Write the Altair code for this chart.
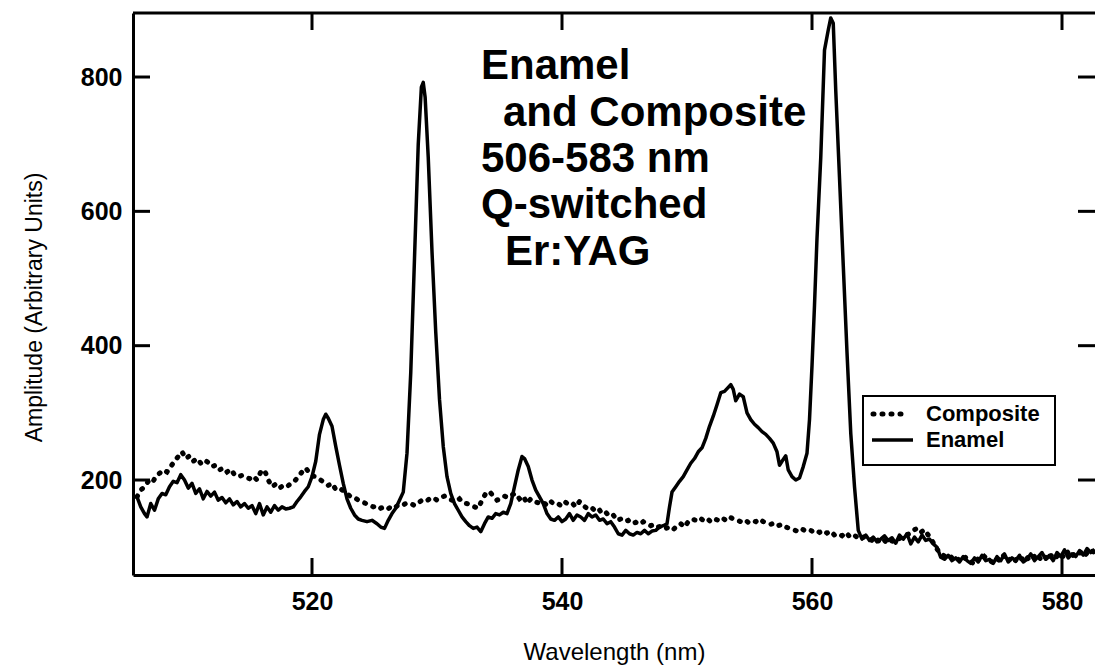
import altair as alt
import pandas as pd

# Emission spectra, 506-583 nm, Q-switched Er:YAG ablation
enamel_nm = [
    506.0, 506.3, 506.6, 506.8, 507.1, 507.4, 507.7, 508.0, 508.3, 508.6, 508.9, 509.2,
    509.5, 509.8, 510.1, 510.4, 510.7, 511.0, 511.3, 511.6, 511.9, 512.2, 512.5, 512.8,
    513.1, 513.4, 513.7, 514.0, 514.3, 514.6, 514.9, 515.2, 515.5, 515.8, 516.1, 516.4,
    516.7, 517.0, 517.3, 517.6, 517.9, 518.2, 518.5, 518.8, 519.1, 519.4, 519.7, 520.0,
    520.3, 520.6, 520.9, 521.1, 521.3, 521.6, 521.9, 522.2, 522.5, 522.8, 523.1, 523.4,
    523.7, 524.0, 524.4, 524.8, 525.2, 525.5, 525.8, 526.1, 526.4, 526.7, 527.0, 527.3,
    527.6, 527.9, 528.2, 528.5, 528.75, 528.9, 529.05, 529.3, 529.6, 529.9, 530.2, 530.5,
    530.8, 531.1, 531.4, 531.7, 532.0, 532.3, 532.6, 532.9, 533.2, 533.5, 533.8, 534.1,
    534.4, 534.7, 535.0, 535.3, 535.6, 535.9, 536.2, 536.5, 536.8, 537.0, 537.3, 537.6,
    537.9, 538.2, 538.5, 538.8, 539.1, 539.4, 539.7, 540.0, 540.3, 540.6, 540.9, 541.2,
    541.5, 541.8, 542.1, 542.4, 542.7, 543.0, 543.3, 543.6, 543.9, 544.2, 544.5, 544.8,
    545.1, 545.4, 545.7, 546.0, 546.3, 546.6, 546.9, 547.2, 547.5, 547.8, 548.1, 548.4,
    548.6, 548.8, 549.1, 549.4, 549.7, 550.0, 550.3, 550.6, 550.9, 551.2, 551.5, 551.8,
    552.1, 552.4, 552.7, 553.0, 553.3, 553.5, 553.7, 553.9, 554.2, 554.5, 554.8, 555.1,
    555.4, 555.7, 556.0, 556.3, 556.6, 556.9, 557.2, 557.4, 557.6, 557.9, 558.1, 558.4,
    558.7, 559.0, 559.3, 559.6, 559.8, 560.0, 560.2, 560.4, 560.7, 561.0, 561.3, 561.5,
    561.7, 561.9, 562.2, 562.5, 562.8, 563.1, 563.4, 563.7, 564.0, 564.3, 564.6, 564.9,
    565.2, 565.5, 565.8, 566.1, 566.4, 566.7, 567.0, 567.3, 567.6, 567.9, 568.2, 568.5,
    568.8, 569.1, 569.4, 569.7, 570.0, 570.3, 570.6, 570.9, 571.2, 571.5, 571.8, 572.1,
    572.4, 572.7, 573.0, 573.3, 573.6, 573.9, 574.2, 574.5, 574.8, 575.1, 575.4, 575.7,
    576.0, 576.3, 576.6, 576.9, 577.2, 577.5, 577.8, 578.1, 578.4, 578.7, 579.0, 579.3,
    579.6, 579.9, 580.2, 580.5, 580.8, 581.1, 581.4, 581.7, 582.0, 582.3, 582.6,
]
enamel_amp = [
    175, 160, 150, 145, 165, 155, 172, 180, 178, 190, 198, 196,
    208, 200, 188, 195, 180, 187, 172, 183, 176, 182, 170, 174,
    166, 172, 163, 168, 160, 165, 158, 162, 150, 165, 148, 160,
    152, 162, 155, 160, 157, 158, 160, 168, 175, 183, 190, 205,
    228, 268, 290, 298, 292, 280, 250, 222, 195, 172, 158, 148,
    142, 140, 138, 140, 135, 130, 128, 140, 150, 158, 170, 182,
    240, 360, 530, 700, 785, 792, 770, 680, 540, 420, 320, 250,
    205, 180, 165, 155, 145, 138, 132, 128, 130, 123, 135, 145,
    143, 150, 148, 152, 150, 165, 190, 215, 235, 232, 220, 200,
    185, 175, 165, 150, 142, 140, 145, 138, 142, 150, 140, 148,
    145, 140, 150, 145, 148, 140, 142, 135, 138, 130, 120, 118,
    125, 120, 118, 122, 120, 125, 120, 124, 125, 130, 132, 135,
    160, 182, 190, 198, 205, 215, 225, 232, 242, 248, 262, 280,
    295, 312, 330, 332, 338, 342, 335, 318, 328, 324, 300, 290,
    283, 278, 272, 268, 262, 255, 242, 222, 228, 236, 215, 205,
    200, 203, 220, 240, 290, 370, 460, 560, 680, 840, 870, 888,
    880, 780, 650, 520, 390, 270, 190, 125, 112, 118, 110, 115,
    108, 112, 117, 110, 114, 106, 118, 112, 120, 105, 115, 108,
    118, 110, 112, 105, 100, 85, 82, 88, 80, 84, 78, 86,
    80, 76, 84, 78, 88, 80, 82, 76, 86, 80, 90, 78,
    84, 80, 88, 78, 82, 90, 80, 86, 92, 82, 88, 80,
    92, 86, 96, 84, 90, 86, 95, 88, 98, 92, 97,
]

composite_nm = [
    506.0, 506.3, 506.6, 506.9, 507.2, 507.5, 507.8, 508.1, 508.4, 508.7, 509.0, 509.3,
    509.6, 509.9, 510.2, 510.5, 510.8, 511.1, 511.4, 511.7, 512.0, 512.3, 512.6, 512.9,
    513.2, 513.5, 513.8, 514.1, 514.4, 514.7, 515.0, 515.3, 515.6, 515.9, 516.2, 516.5,
    516.8, 517.1, 517.4, 517.7, 518.0, 518.3, 518.6, 518.9, 519.2, 519.5, 519.8, 520.1,
    520.4, 520.7, 521.0, 521.3, 521.6, 521.9, 522.2, 522.5, 522.8, 523.1, 523.4, 523.7,
    524.0, 524.3, 524.6, 524.9, 525.2, 525.5, 525.8, 526.1, 526.4, 526.7, 527.0, 527.3,
    527.6, 527.9, 528.2, 528.5, 528.8, 529.1, 529.4, 529.7, 530.0, 530.3, 530.6, 530.9,
    531.2, 531.5, 531.8, 532.1, 532.4, 532.7, 533.0, 533.3, 533.6, 533.9, 534.2, 534.5,
    534.8, 535.1, 535.4, 535.7, 536.0, 536.3, 536.6, 536.9, 537.2, 537.5, 537.8, 538.1,
    538.4, 538.7, 539.0, 539.3, 539.6, 539.9, 540.2, 540.5, 540.8, 541.1, 541.4, 541.7,
    542.0, 542.3, 542.6, 542.9, 543.2, 543.5, 543.8, 544.1, 544.4, 544.7, 545.0, 545.3,
    545.6, 545.9, 546.2, 546.5, 546.8, 547.1, 547.4, 547.7, 548.0, 548.3, 548.6, 548.9,
    549.2, 549.5, 549.8, 550.1, 550.4, 550.7, 551.0, 551.3, 551.6, 551.9, 552.2, 552.5,
    552.8, 553.1, 553.4, 553.7, 554.0, 554.3, 554.6, 554.9, 555.2, 555.5, 555.8, 556.1,
    556.4, 556.7, 557.0, 557.3, 557.6, 557.9, 558.2, 558.5, 558.8, 559.1, 559.4, 559.7,
    560.0, 560.3, 560.6, 560.9, 561.2, 561.5, 561.8, 562.1, 562.4, 562.7, 563.0, 563.3,
    563.6, 563.9, 564.2, 564.5, 564.8, 565.1, 565.4, 565.7, 566.0, 566.3, 566.6, 566.9,
    567.2, 567.5, 567.8, 568.1, 568.4, 568.7, 569.0, 569.3, 569.6, 569.9, 570.2, 570.5,
    570.8, 571.1, 571.4, 571.7, 572.0, 572.3, 572.6, 572.9, 573.2, 573.5, 573.8, 574.1,
    574.4, 574.7, 575.0, 575.3, 575.6, 575.9, 576.2, 576.5, 576.8, 577.1, 577.4, 577.7,
    578.0, 578.3, 578.6, 578.9, 579.2, 579.5, 579.8, 580.1, 580.4, 580.7, 581.0, 581.3,
    581.6, 581.9, 582.2, 582.5,
]
composite_amp = [
    175, 185, 190, 198, 195, 205, 210, 215, 212, 220, 228, 235,
    242, 232, 236, 228, 232, 225, 230, 226, 220, 222, 215, 218,
    212, 216, 208, 205, 207, 204, 202, 206, 200, 212, 215, 200,
    190, 194, 188, 192, 190, 195, 198, 205, 212, 218, 210, 206,
    204, 200, 196, 192, 195, 186, 188, 184, 180, 175, 174, 170,
    168, 165, 163, 160, 162, 158, 160, 157, 162, 160, 164, 163,
    166, 165, 162, 166, 170, 168, 172, 174, 170, 174, 176, 172,
    170, 168, 172, 166, 165, 162, 160, 158, 170, 180, 183, 176,
    170, 172, 176, 174, 178, 180, 172, 176, 165, 172, 168, 166,
    168, 164, 170, 165, 166, 162, 168, 164, 166, 160, 168, 162,
    158, 160, 155, 158, 150, 152, 146, 148, 140, 142, 138, 140,
    135, 137, 134, 138, 135, 132, 134, 130, 132, 128, 130, 126,
    132, 135, 130, 138, 142, 140, 144, 140, 143, 138, 142, 140,
    144, 140, 145, 142, 140, 138, 141, 137, 140, 138, 142, 138,
    136, 134, 136, 132, 134, 130, 128, 126, 124, 128, 125, 127,
    124, 126, 122, 125, 121, 124, 118, 120, 117, 122, 116, 119,
    115, 112, 116, 113, 110, 114, 108, 112, 106, 110, 108, 112,
    115, 118, 120, 125, 128, 122, 126, 118, 110, 100, 92, 88,
    84, 86, 80, 82, 78, 85, 80, 76, 83, 79, 86, 81,
    78, 84, 80, 88, 79, 83, 78, 86, 82, 88, 80, 85,
    90, 82, 87, 80, 89, 84, 92, 86, 94, 85, 90, 88,
    95, 89, 96, 93,
]

x_ticks = [520, 540, 560, 580]
y_ticks = [200, 400, 600, 800]
note_lines = ["Enamel", "and Composite", "506-583 nm", "Q-switched", "Er:YAG"]
legend_labels = ["Composite", "Enamel"]

W, H = 962, 562
X_DOMAIN = [505.68, 582.64]
Y_DOMAIN = [58.6, 895.3]
FONT = "Liberation Sans"
TICK = 17

x_scale = alt.Scale(domain=X_DOMAIN, nice=False, zero=False)
y_scale = alt.Scale(domain=Y_DOMAIN, nice=False, zero=False)

enamel = pd.DataFrame({"wavelength": enamel_nm, "amplitude": enamel_amp})
composite = pd.DataFrame({"wavelength": composite_nm, "amplitude": composite_amp})

x_axis = alt.Axis(
    values=x_ticks, title="Wavelength (nm)", ticks=False, grid=False,
    domainColor="black", domainWidth=3, labelPadding=14,
    titleY=84, titleBaseline="alphabetic",
)
y_axis = alt.Axis(
    values=y_ticks, title="Amplitude (Arbitrary Units)", ticks=False, grid=False,
    domainColor="black", domainWidth=3, labelPadding=11,
    titleX=-99, titleY=294, titleAlign="center", titleBaseline="middle",
    titleFontSize=23,
)

enamel_line = alt.Chart(enamel).mark_line(
    color="black", strokeWidth=3.5, strokeJoin="round", clip=True
).encode(
    x=alt.X("wavelength:Q", scale=x_scale, axis=x_axis),
    y=alt.Y("amplitude:Q", scale=y_scale, axis=y_axis),
)

composite_line = alt.Chart(composite).mark_line(
    color="black", strokeWidth=5, strokeCap="round", strokeDash=[1, 8], clip=True
).encode(
    x=alt.X("wavelength:Q", scale=x_scale, axis=x_axis),
    y=alt.Y("amplitude:Q", scale=y_scale, axis=y_axis),
)

# inward tick marks on all four sides
yt = pd.DataFrame({"amplitude": y_ticks})
xt = pd.DataFrame({"wavelength": x_ticks})
left_ticks = alt.Chart(yt).mark_rule(color="black", strokeWidth=3).encode(
    y=alt.Y("amplitude:Q", scale=y_scale, axis=y_axis), x=alt.value(0), x2=alt.value(TICK))
right_ticks = alt.Chart(yt).mark_rule(color="black", strokeWidth=3).encode(
    y=alt.Y("amplitude:Q", scale=y_scale, axis=y_axis), x=alt.value(W - TICK), x2=alt.value(W))
bottom_ticks = alt.Chart(xt).mark_rule(color="black", strokeWidth=3).encode(
    x=alt.X("wavelength:Q", scale=x_scale, axis=x_axis), y=alt.value(H - TICK), y2=alt.value(H))
top_ticks = alt.Chart(xt).mark_rule(color="black", strokeWidth=3).encode(
    x=alt.X("wavelength:Q", scale=x_scale, axis=x_axis), y=alt.value(0), y2=alt.value(TICK))

one = pd.DataFrame({"k": [0]})
top_frame = alt.Chart(one).mark_rule(color="black", strokeWidth=3).encode(
    x=alt.value(0), x2=alt.value(W), y=alt.value(0))

# annotation block
note_pos = [(348, 66), (370, 113), (348, 159), (348, 205), (372, 252)]
notes = []
for line, (px, py) in zip(note_lines, note_pos):
    notes.append(
        alt.Chart(pd.DataFrame({"label": [line]})).mark_text(
            font=FONT, fontSize=42, fontWeight="bold", color="black",
            align="left", baseline="alphabetic",
        ).encode(text="label:N", x=alt.value(px), y=alt.value(py))
    )

# legend box
leg_box = alt.Chart(one).mark_rect(
    fill="white", stroke="black", strokeWidth=2
).encode(x=alt.value(730), x2=alt.value(922), y=alt.value(383), y2=alt.value(452))
leg_dots = alt.Chart(one).mark_rule(
    color="black", strokeWidth=5, strokeCap="round", strokeDash=[1, 8]
).encode(x=alt.value(740), x2=alt.value(775), y=alt.value(401))
leg_solid = alt.Chart(one).mark_rule(color="black", strokeWidth=3.5).encode(
    x=alt.value(739), x2=alt.value(780), y=alt.value(427))
leg_text = []
for lbl, py in zip(legend_labels, [401, 427]):
    leg_text.append(
        alt.Chart(pd.DataFrame({"label": [lbl]})).mark_text(
            font=FONT, fontSize=22, fontWeight="bold", color="black",
            align="left", baseline="middle",
        ).encode(text="label:N", x=alt.value(793), y=alt.value(py))
    )

chart = alt.layer(
    composite_line, enamel_line,
    left_ticks, right_ticks, bottom_ticks, top_ticks, top_frame,
    *notes, leg_box, leg_dots, leg_solid, *leg_text,
).properties(
    width=W, height=H,
    autosize=alt.AutoSizeParams(type="none"),
    padding={"left": 133, "top": 13, "right": 0, "bottom": 92},
    background="white",
).configure_view(
    stroke=None
).configure_axis(
    labelFont=FONT, labelFontSize=25, labelFontWeight="bold", labelColor="black",
    titleFont=FONT, titleFontSize=24, titleFontWeight="normal", titleColor="black",
)

chart.save("out.html", embed_options={"renderer": "svg", "actions": False})
